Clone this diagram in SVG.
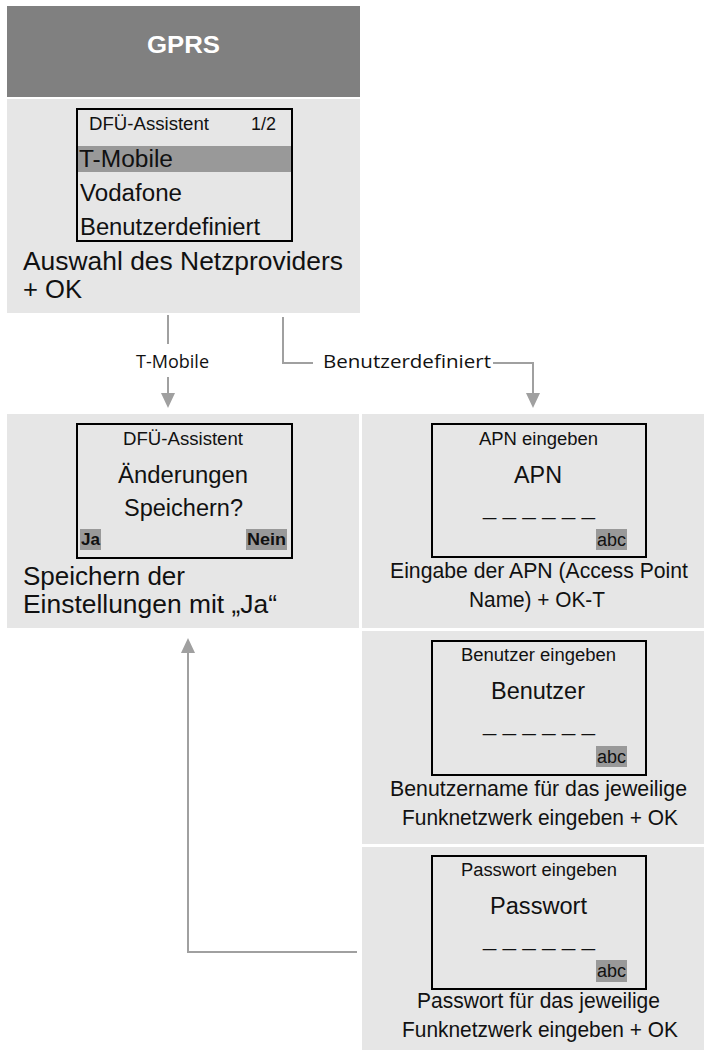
<svg xmlns="http://www.w3.org/2000/svg" width="704" height="1052" viewBox="0 0 704 1052">
<style>
.panel{fill:#e6e6e6}
.screen{fill:none;stroke:#000;stroke-width:2}
.hl{fill:#999999}
.t{font-family:"Liberation Sans",Arial,sans-serif;fill:#111}
.b{font-weight:bold}
.conn{fill:none;stroke:#a0a0a0;stroke-width:2}
.lbl{font-family:"Open Sans","Liberation Sans",sans-serif;font-size:18px;fill:#111}
</style>
<defs>
<marker id="arr" viewBox="0 0 15 14" refX="0" refY="7" markerWidth="15" markerHeight="14" markerUnits="userSpaceOnUse" orient="auto">
<path d="M0,0 L15,7 L0,14 Z" fill="#a0a0a0"/>
</marker>
</defs>

<g id="header">
<rect x="7" y="6" width="353" height="91" fill="#808080"/>
<text class="t b" x="147" y="53" font-size="24" style="fill:#fff" textLength="73" lengthAdjust="spacingAndGlyphs">GPRS</text>
</g>

<g id="select-provider">
<rect class="panel" x="7" y="99" width="353" height="214"/>
<rect class="hl" x="77" y="146" width="214" height="26"/>
<rect class="screen" x="77" y="109" width="215" height="132"/>
<text class="t" x="89" y="130" font-size="18" textLength="120" lengthAdjust="spacingAndGlyphs">DFÜ-Assistent</text>
<text class="t" x="251" y="130" font-size="18" textLength="25" lengthAdjust="spacingAndGlyphs">1/2</text>
<text class="t" x="79" y="167" font-size="23" textLength="94" lengthAdjust="spacingAndGlyphs">T-Mobile</text>
<text class="t" x="80" y="201" font-size="23" textLength="102" lengthAdjust="spacingAndGlyphs">Vodafone</text>
<text class="t" x="80" y="235" font-size="23" textLength="180" lengthAdjust="spacingAndGlyphs">Benutzerdefiniert</text>
<text class="t" x="23" y="270" font-size="26" textLength="320" lengthAdjust="spacingAndGlyphs">Auswahl des Netzproviders</text>
<text class="t" x="23" y="298" font-size="26" textLength="59" lengthAdjust="spacingAndGlyphs">+ OK</text>
</g>

<g id="save-settings">
<rect class="panel" x="7" y="414" width="352" height="214"/>
<rect class="screen" x="77" y="424" width="215" height="134"/>
<text class="t" x="123" y="445" font-size="18" textLength="120" lengthAdjust="spacingAndGlyphs">DFÜ-Assistent</text>
<text class="t" x="118" y="483" font-size="23" textLength="130" lengthAdjust="spacingAndGlyphs">Änderungen</text>
<text class="t" x="124" y="516" font-size="23" textLength="119" lengthAdjust="spacingAndGlyphs">Speichern?</text>
<rect class="hl" x="80" y="529" width="21" height="21"/>
<rect class="hl" x="246" y="529" width="41" height="21"/>
<text class="t b" x="81" y="545" font-size="17" textLength="19" lengthAdjust="spacingAndGlyphs">Ja</text>
<text class="t b" x="247" y="545" font-size="17" textLength="39" lengthAdjust="spacingAndGlyphs">Nein</text>
<text class="t" x="23" y="585" font-size="26" textLength="162" lengthAdjust="spacingAndGlyphs">Speichern der</text>
<text class="t" x="23" y="613" font-size="26" textLength="254" lengthAdjust="spacingAndGlyphs">Einstellungen mit „Ja“</text>
</g>

<g id="enter-apn">
<rect class="panel" x="362" y="414" width="342" height="214"/>
<rect class="screen" x="432" y="424" width="214" height="133"/>
<text class="t" x="479" y="445" font-size="18" textLength="119" lengthAdjust="spacingAndGlyphs">APN eingeben</text>
<text class="t" x="514" y="483" font-size="23" textLength="48" lengthAdjust="spacingAndGlyphs">APN</text>
<text class="t" x="483" y="515" font-size="22" textLength="112" lengthAdjust="spacingAndGlyphs">_ _ _ _ _ _</text>
<rect class="hl" x="596" y="529" width="31" height="21"/>
<text class="t" x="597" y="546" font-size="18" textLength="29" lengthAdjust="spacingAndGlyphs">abc</text>
<text class="t" x="390" y="578" font-size="22" textLength="298" lengthAdjust="spacingAndGlyphs">Eingabe der APN (Access Point</text>
<text class="t" x="469" y="607" font-size="22" textLength="136" lengthAdjust="spacingAndGlyphs">Name) + OK-T</text>
</g>

<g id="enter-user">
<rect class="panel" x="362" y="631" width="342" height="213"/>
<rect class="screen" x="432" y="641" width="214" height="134"/>
<text class="t" x="461" y="661" font-size="18" textLength="155" lengthAdjust="spacingAndGlyphs">Benutzer eingeben</text>
<text class="t" x="491" y="699" font-size="23" textLength="94" lengthAdjust="spacingAndGlyphs">Benutzer</text>
<text class="t" x="483" y="731" font-size="22" textLength="112" lengthAdjust="spacingAndGlyphs">_ _ _ _ _ _</text>
<rect class="hl" x="596" y="746" width="31" height="21"/>
<text class="t" x="597" y="763" font-size="18" textLength="29" lengthAdjust="spacingAndGlyphs">abc</text>
<text class="t" x="390" y="796" font-size="22" textLength="297" lengthAdjust="spacingAndGlyphs">Benutzername für das jeweilige</text>
<text class="t" x="402" y="825" font-size="22" textLength="276" lengthAdjust="spacingAndGlyphs">Funknetzwerk eingeben + OK</text>
</g>

<g id="enter-password">
<rect class="panel" x="362" y="847" width="342" height="203"/>
<rect class="screen" x="432" y="856" width="214" height="133"/>
<text class="t" x="461" y="876" font-size="18" textLength="156" lengthAdjust="spacingAndGlyphs">Passwort eingeben</text>
<text class="t" x="490" y="914" font-size="23" textLength="97" lengthAdjust="spacingAndGlyphs">Passwort</text>
<text class="t" x="483" y="946" font-size="22" textLength="112" lengthAdjust="spacingAndGlyphs">_ _ _ _ _ _</text>
<rect class="hl" x="596" y="960" width="31" height="22"/>
<text class="t" x="597" y="977" font-size="18" textLength="29" lengthAdjust="spacingAndGlyphs">abc</text>
<text class="t" x="417" y="1008" font-size="22" textLength="243" lengthAdjust="spacingAndGlyphs">Passwort für das jeweilige</text>
<text class="t" x="402" y="1037" font-size="22" textLength="276" lengthAdjust="spacingAndGlyphs">Funknetzwerk eingeben + OK</text>
</g>

<g id="connectors">
<path class="conn" d="M168,315 V344"/>
<path class="conn" d="M168,377 V393" marker-end="url(#arr)"/>
<text class="lbl" x="136" y="368" textLength="73" lengthAdjust="spacingAndGlyphs">T-Mobile</text>
<path class="conn" d="M283,317 V363 H313"/>
<path class="conn" d="M493,363 H533 V393" marker-end="url(#arr)"/>
<text class="lbl" x="323" y="368" textLength="168" lengthAdjust="spacingAndGlyphs">Benutzerdefiniert</text>
<path class="conn" d="M357,952 H188 V653" marker-end="url(#arr)"/>
</g>
</svg>
